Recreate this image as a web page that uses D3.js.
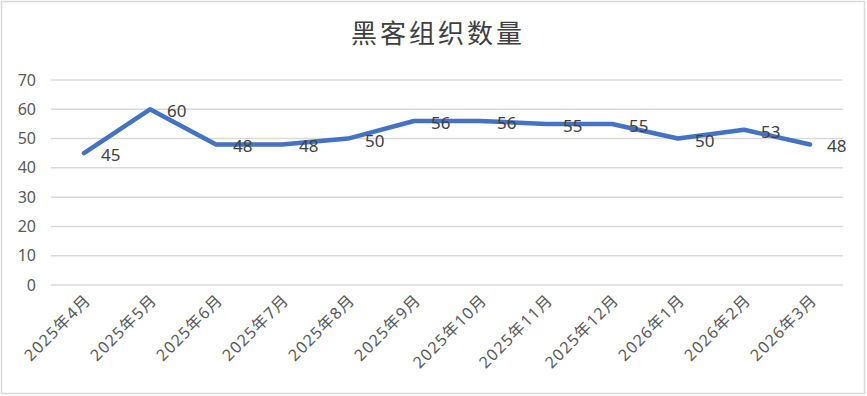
<!DOCTYPE html>
<html>
<head>
<meta charset="utf-8">
<style>
  body { margin: 0; background: #fff; }
  svg text { font-family: "Noto Sans", "Noto Sans CJK SC", sans-serif; }
</style>
</head>
<body>
<svg width="867" height="396"></svg>
<script src="https://d3js.org/d3.v7.min.js"></script>
<script>

var months = ["2025年4月", "2025年5月", "2025年6月", "2025年7月", "2025年8月", "2025年9月",
              "2025年10月", "2025年11月", "2025年12月", "2026年1月", "2026年2月", "2026年3月"];
var counts = [45, 60, 48, 48, 50, 56, 56, 55, 55, 50, 53, 48];
var yTicks = [0, 10, 20, 30, 40, 50, 60, 70];

var svg = d3.select("svg");

// outer frame
svg.append("rect")
    .attr("x", 1.5).attr("y", 1.5)
    .attr("width", 863).attr("height", 392)
    .attr("fill", "#fff")
    .attr("stroke", "#d9d9d9")
    .attr("stroke-width", 1.5);

svg.append("text")
    .attr("x", 438)
    .attr("y", 43)
    .attr("text-anchor", "middle")
    .attr("font-size", 26)
    .attr("letter-spacing", 3)
    .attr("fill", "#404040")
    .style("font-family", "'Noto Sans CJK SC', sans-serif")
    .text("黑客组织数量");

var x = d3.scaleBand()
    .domain(months)
    .range([51, 843]);

var y = d3.scaleLinear()
    .domain([0, 70])
    .range([285, 80]);

// gridlines
svg.append("g")
  .selectAll("line")
  .data(yTicks)
  .enter().append("line")
    .attr("x1", 51).attr("x2", 843)
    .attr("y1", function(d) { return y(d); })
    .attr("y2", function(d) { return y(d); })
    .attr("stroke", "#d9d9d9")
    .attr("stroke-width", 1.5);

// y axis labels
var yAxis = svg.append("g")
    .attr("transform", "translate(36,0)")
    .call(d3.axisLeft(y).tickValues(yTicks).tickSize(0).tickPadding(0));
yAxis.select(".domain").remove();
yAxis.selectAll("text")
    .attr("font-size", 16)
    .attr("fill", "#595959")
    .style("font-family", "'Noto Sans', sans-serif");

// x axis labels, rotated
svg.append("g")
  .selectAll("text")
  .data(months)
  .enter().append("text")
    .attr("transform", function(d) {
      return "translate(" + (x(d) + x.bandwidth() / 2 + 8) + ",301) rotate(-45)";
    })
    .attr("text-anchor", "end")
    .attr("font-size", 16)
    .attr("letter-spacing", 1.2)
    .attr("fill", "#595959")
    .text(function(d) { return d; });

var line = d3.line()
    .x(function(d, i) { return x(months[i]) + x.bandwidth() / 2; })
    .y(function(d) { return y(d); });

svg.append("path")
    .datum(counts)
    .attr("d", line)
    .attr("fill", "none")
    .attr("stroke", "#4472c4")
    .attr("stroke-width", 4.5)
    .attr("stroke-linejoin", "round")
    .attr("stroke-linecap", "round");

// value labels to the right of each point
svg.append("g")
  .selectAll("text")
  .data(counts)
  .enter().append("text")
    .attr("x", function(d, i) { return x(months[i]) + x.bandwidth() / 2 + 17; })
    .attr("y", function(d) { return y(d) + 8; })
    .attr("font-size", 17)
    .attr("fill", "#404040")
    .text(function(d) { return d; });

</script>
</body>
</html>
